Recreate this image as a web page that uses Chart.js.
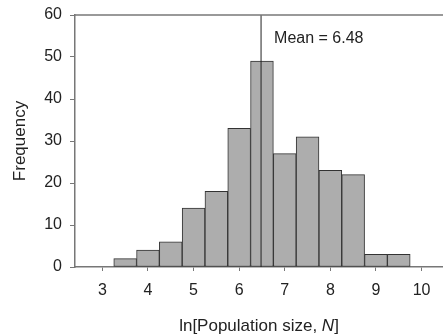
<!DOCTYPE html>
<html>
<head>
<meta charset="utf-8">
<script src="https://cdn.jsdelivr.net/npm/chart.js@4/dist/chart.umd.min.js"></script>
<style>
  html, body { margin: 0; padding: 0; background: #fff; overflow: hidden; }
  #wrap { width: 443px; height: 336px; }
</style>
</head>
<body>
<div id="wrap"><canvas id="histChart" width="443" height="336"></canvas></div>
<script>
// Histogram data: bin centres (width 0.5) and counts
const binCenters = [3.5, 4.0, 4.5, 5.0, 5.5, 6.0, 6.5, 7.0, 7.5, 8.0, 8.5, 9.0, 9.5];
const counts = [2, 4, 6, 14, 18, 33, 49, 27, 31, 23, 22, 3, 3];
const xTicks = [3, 4, 5, 6, 7, 8, 9, 10];
const yTicks = [0, 10, 20, 30, 40, 50, 60];
const meanValue = 6.48;

document.addEventListener('DOMContentLoaded', function() {
    const axisColor = '#777';
    const textColor = '#222';
    const fontFamily = '"Liberation Sans", Arial, sans-serif';

    // frame top line, mean label and axis titles
    const decorations = {
        id: 'decorations',
        afterDraw(chart) {
            const ctx = chart.ctx;
            const area = chart.chartArea;
            const xs = chart.scales.x;
            const ys = chart.scales.y;
            ctx.save();
            ctx.strokeStyle = axisColor;
            ctx.lineWidth = 1.5;
            ctx.beginPath();
            ctx.moveTo(area.left, area.top);
            ctx.lineTo(area.right, area.top);
            ctx.stroke();

            ctx.fillStyle = textColor;
            ctx.font = '16px ' + fontFamily;
            ctx.textBaseline = 'middle';
            ctx.textAlign = 'left';
            ctx.fillText('Mean = ' + meanValue.toFixed(2), xs.getPixelForValue(meanValue) + 13, ys.getPixelForValue(54.4));

            // y title
            ctx.save();
            ctx.translate(20, (area.top + area.bottom) / 2);
            ctx.rotate(-Math.PI / 2);
            ctx.textAlign = 'center';
            ctx.font = '17px ' + fontFamily;
            ctx.fillText('Frequency', 0, 0);
            ctx.restore();

            // x title with italic N
            const parts = [
                { t: 'ln[Population size, ', f: '17px ' + fontFamily },
                { t: 'N', f: 'italic 17px ' + fontFamily },
                { t: ']', f: '17px ' + fontFamily }
            ];
            let total = 0;
            parts.forEach(p => { ctx.font = p.f; p.w = ctx.measureText(p.t).width; total += p.w; });
            let x = (area.left + area.right) / 2 - total / 2;
            ctx.textAlign = 'left';
            parts.forEach(p => { ctx.font = p.f; ctx.fillText(p.t, x, 326); x += p.w; });
            ctx.restore();
        }
    };

    const ctx = document.getElementById('histChart').getContext('2d');
    new Chart(ctx, {
        type: 'bar',
        data: {
            datasets: [{
                type: 'bar',
                label: 'Frequency',
                data: binCenters.map((c, i) => ({ x: c, y: counts[i] })),
                backgroundColor: '#adadad',
                borderColor: '#333',
                borderWidth: 1,
                borderSkipped: false,
                barPercentage: 1,
                categoryPercentage: 1,
                order: 2
            }, {
                type: 'line',
                label: 'Mean',
                data: [{ x: meanValue, y: 0 }, { x: meanValue, y: 60 }],
                borderColor: '#222',
                borderWidth: 1,
                pointRadius: 0,
                order: 1
            }]
        },
        options: {
            responsive: false,
            animation: false,
            layout: { padding: { top: 15, right: 0, left: 0, bottom: 0 } },
            plugins: {
                legend: { display: false },
                tooltip: { enabled: false }
            },
            scales: {
                x: {
                    type: 'linear',
                    offset: false,
                    min: 2.4,
                    max: 10.47,
                    afterBuildTicks: s => { s.ticks = xTicks.map(v => ({ value: v })); },
                    afterFit: s => { s.height = 69; s.paddingRight = 0; s.paddingLeft = 0; },
                    grid: { display: true, drawOnChartArea: false, drawTicks: true, tickLength: 4, color: axisColor, offset: false },
                    border: { display: true, color: axisColor, width: 1.5 },
                    ticks: { color: textColor, font: { size: 16, family: fontFamily }, padding: 10, maxRotation: 0 }
                },
                y: {
                    min: 0,
                    max: 60,
                    afterBuildTicks: s => { s.ticks = yTicks.map(v => ({ value: v })); },
                    afterFit: s => { s.width = 75; s.paddingTop = 0; s.paddingBottom = 0; },
                    grid: { display: true, drawOnChartArea: false, drawTicks: true, tickLength: 5, color: axisColor },
                    border: { display: true, color: axisColor, width: 1.5 },
                    ticks: { color: textColor, font: { size: 16, family: fontFamily }, padding: 8 }
                }
            }
        },
        plugins: [decorations]
    });
});
</script>
</body>
</html>
